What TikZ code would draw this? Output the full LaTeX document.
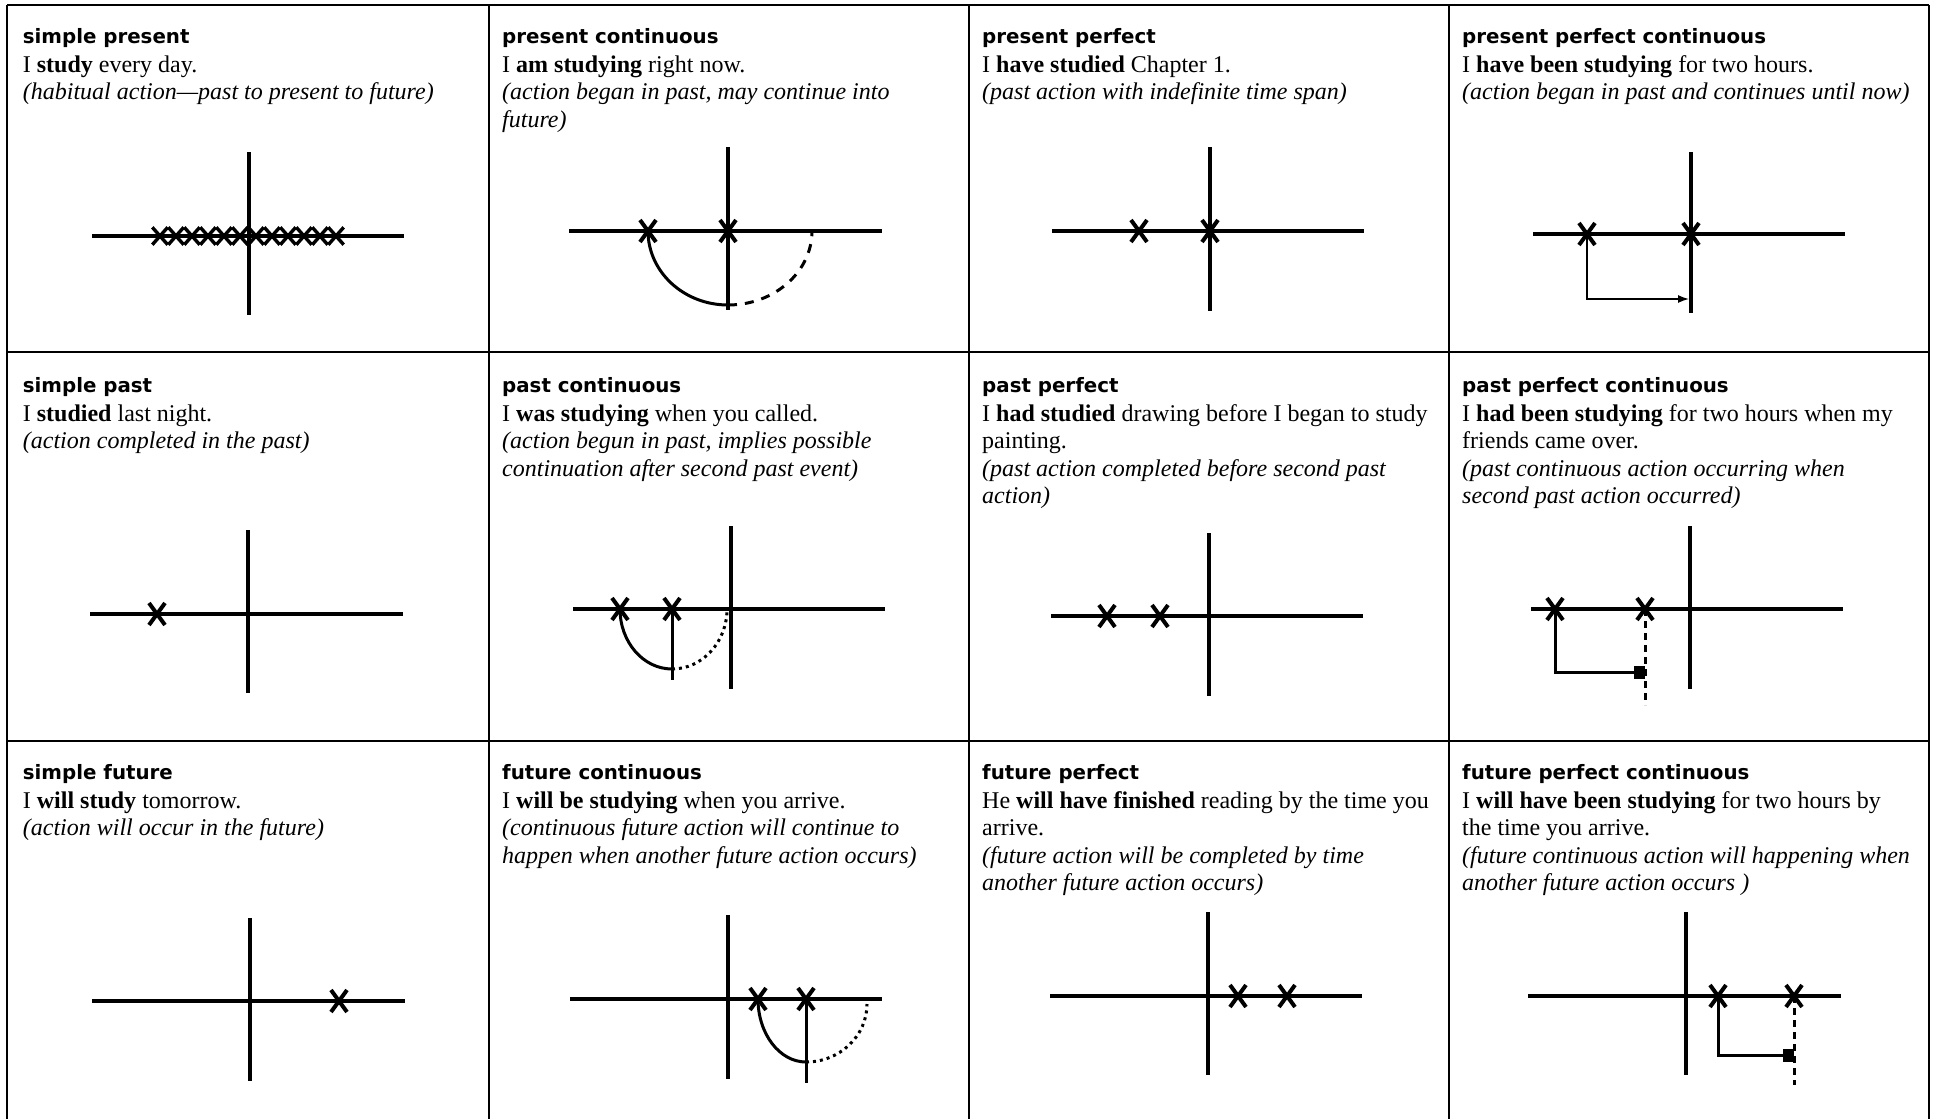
\documentclass[tikz,border=0pt]{standalone}
\usepackage{fontspec}
\setmainfont{Liberation Serif}
\newfontfamily\tensefont{DejaVu Sans}
\usepackage{tikz}
\usetikzlibrary{arrows.meta, positioning, shapes.misc, calc}
\newcommand{\bodysize}{\fontsize{24}{27.6}\selectfont}
\newcommand{\headsize}{\fontsize{19.8}{24}\selectfont}

\begin{document}
\begin{tikzpicture}[
    x=1pt, y=-1pt,
    grid/.style={line width=2.7pt},
    axis/.style={line width=3.5pt},
    xmark/.style={cross out, draw, line width=4pt, minimum width=12pt,
                  minimum height=18pt, inner sep=0pt},
    xsmall/.style={xmark, minimum width=12pt, minimum height=14pt, line width=3.4pt},
    arcline/.style={line width=3pt},
    dashline/.style={line width=3pt, dash pattern=on 9pt off 8pt},
    dotline/.style={line width=3pt, dash pattern=on 3pt off 4pt},
    thinarr/.style={line width=1.5pt, -{Latex[length=11pt,width=8pt]}},
    blockarr/.style={line width=3pt, -{Square[length=11pt,width=13pt]}},
    head/.style={anchor=base west, inner sep=0pt, font=\tensefont\bfseries\headsize},
    body/.style={anchor=north west, inner sep=0pt, align=left, font=\bodysize},
]
    \useasboundingbox (0,0) rectangle (1933,1119);

    % Grid
    \foreach \gx in {7,489,969,1449,1929}
        \draw[grid] (\gx,5) -- (\gx,1119);
    \foreach \gy in {5,352,741}
        \draw[grid] (7,\gy) -- (1929,\gy);

    % Texts, row 1
    \node[head] (sprh) at (22.7,43) {simple present};
    \node[body, below=9.5pt of sprh.base west, anchor=north west] (sprb) {\strut I \textbf{study} every day.\\\textit{(habitual action—past to present to future)}};
    \node[head] (pch) at (502,43) {present continuous};
    \node[body, below=9.5pt of pch.base west, anchor=north west] (pcb) {\strut I \textbf{am studying} right now.\\\textit{(action began in past, may continue into}\\\textit{future)}};
    \node[head] (pph) at (982,43) {present perfect};
    \node[body, below=9.5pt of pph.base west, anchor=north west] (ppb) {\strut I \textbf{have studied} Chapter 1.\\\textit{(past action with indefinite time span)}};
    \node[head] (ppch) at (1462,43) {present perfect continuous};
    \node[body, below=9.5pt of ppch.base west, anchor=north west] (ppcb) {\strut I \textbf{have been studying} for two hours.\\\textit{(action began in past and continues until now)}};

    % Texts, row 2
    \node[head] (spah) at (22.7,392) {simple past};
    \node[body, below=9.5pt of spah.base west, anchor=north west] (spab) {\strut I \textbf{studied} last night.\\\textit{(action completed in the past)}};
    \node[head] (pach) at (502,392) {past continuous};
    \node[body, below=9.5pt of pach.base west, anchor=north west] (pacb) {\strut I \textbf{was studying} when you called.\\\textit{(action begun in past, implies possible}\\\textit{continuation after second past event)}};
    \node[head] (paph) at (982,392) {past perfect};
    \node[body, below=9.5pt of paph.base west, anchor=north west] (papb) {\strut I \textbf{had studied} drawing before I began to study\\painting.\\\textit{(past action completed before second past}\\\textit{action)}};
    \node[head] (papch) at (1462,392) {past perfect continuous};
    \node[body, below=9.5pt of papch.base west, anchor=north west] (papcb) {\strut I \textbf{had been studying} for two hours when my\\friends came over.\\\textit{(past continuous action occurring when}\\\textit{second past action occurred)}};

    % Texts, row 3
    \node[head] (sfh) at (22.7,779) {simple future};
    \node[body, below=9.5pt of sfh.base west, anchor=north west] (sfb) {\strut I \textbf{will study} tomorrow.\\\textit{(action will occur in the future)}};
    \node[head] (fch) at (502,779) {future continuous};
    \node[body, below=9.5pt of fch.base west, anchor=north west] (fcb) {\strut I \textbf{will be studying} when you arrive.\\\textit{(continuous future action will continue to}\\\textit{happen when another future action occurs)}};
    \node[head] (fph) at (982,779) {future perfect};
    \node[body, below=9.5pt of fph.base west, anchor=north west] (fpb) {\strut He \textbf{will have finished} reading by the time you\\arrive.\\\textit{(future action will be completed by time}\\\textit{another future action occurs)}};
    \node[head] (fpch) at (1462,779) {future perfect continuous};
    \node[body, below=9.5pt of fpch.base west, anchor=north west] (fpcb) {\strut I \textbf{will have been studying} for two hours by\\the time you arrive.\\\textit{(future continuous action will happening when}\\\textit{another future action occurs )}};

    % Timelines, row 1
    \draw[axis] (92,236) -- (404,236) (249,152) -- (249,315);
    \foreach \i in {0,...,11}
        \node[xsmall] (spr\i) at (160+16*\i,236) {};

    \draw[axis] (569,231) -- (882,231) (728,147) -- (728,310);
    \node[xmark] (pc1) at (648,231) {};
    \node[xmark] (pc2) at (728,231) {};
    \draw[arcline] (pc1.center) arc[start angle=180, end angle=90, x radius=80, y radius=74] coordinate (pclow);
    \draw[dashline] (pclow) arc[start angle=90, end angle=0, x radius=84, y radius=74];

    \draw[axis] (1052,231) -- (1364,231) (1210,147) -- (1210,311);
    \node[xmark] (pp1) at (1139,231) {};
    \node[xmark] (pp2) at (1210,231) {};

    \draw[axis] (1533,234) -- (1845,234) (1691,152) -- (1691,313);
    \node[xmark] (ppc1) at (1587,234) {};
    \node[xmark] (ppc2) at (1691,234) {};
    \coordinate (ppcend) at (1689,299);
    \draw[thinarr] (ppc1.center) |- (ppcend);

    % Timelines, row 2
    \draw[axis] (90,614) -- (403,614) (248,530) -- (248,693);
    \node[xmark] (spa) at (157,614) {};

    \draw[axis] (573,609) -- (885,609) (731,526) -- (731,689);
    \node[xmark] (pac1) at (620,609) {};
    \node[xmark] (pac2) at (672,609) {};
    \coordinate (pacfoot) at (672,680);
    \draw[arcline] (pac2.center) -- (pacfoot);
    \draw[arcline] (pac1.center) arc[start angle=180, end angle=90, x radius=52, y radius=60] coordinate (paclow);
    \draw[dotline] (paclow) arc[start angle=90, end angle=0, x radius=55, y radius=60];

    \draw[axis] (1051,616) -- (1363,616) (1209,533) -- (1209,696);
    \node[xmark] (pap1) at (1107,616) {};
    \node[xmark] (pap2) at (1160,616) {};

    \draw[axis] (1531,609) -- (1843,609) (1690,526) -- (1690,689);
    \node[xmark] (papc1) at (1555,609) {};
    \node[xmark] (papc2) at (1645,609) {};
    \coordinate (papcend) at (1645,672);
    \coordinate (papcfoot) at (1645,705);
    \draw[blockarr] (papc1.center) |- (papcend);
    \draw[dashline, dash pattern=on 7pt off 5pt] (papc2.center) -- (papcfoot);

    % Timelines, row 3
    \draw[axis] (92,1001) -- (405,1001) (250,918) -- (250,1081);
    \node[xmark] (sf) at (339,1001) {};

    \draw[axis] (570,999) -- (882,999) (728,915) -- (728,1079);
    \node[xmark] (fc1) at (758,999) {};
    \node[xmark] (fc2) at (806,999) {};
    \coordinate (fcfoot) at (806,1083);
    \draw[arcline] (fc2.center) -- (fcfoot);
    \draw[arcline] (fc1.center) arc[start angle=180, end angle=90, x radius=48, y radius=63] coordinate (fclow);
    \draw[dotline] (fclow) arc[start angle=90, end angle=0, x radius=61, y radius=58];

    \draw[axis] (1050,996) -- (1362,996) (1208,912) -- (1208,1075);
    \node[xmark] (fp1) at (1238,996) {};
    \node[xmark] (fp2) at (1287,996) {};

    \draw[axis] (1528,996) -- (1841,996) (1686,912) -- (1686,1075);
    \node[xmark] (fpc1) at (1718,996) {};
    \node[xmark] (fpc2) at (1794,996) {};
    \coordinate (fpcend) at (1794,1055);
    \coordinate (fpcfoot) at (1794,1085);
    \draw[blockarr] (fpc1.center) |- (fpcend);
    \draw[dashline, dash pattern=on 7pt off 5pt] (fpc2.center) -- (fpcfoot);
\end{tikzpicture}
\end{document}
